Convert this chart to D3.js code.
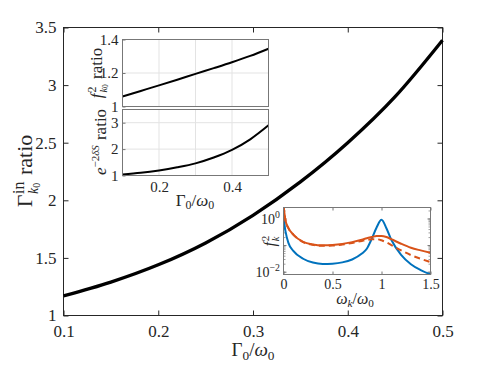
<!DOCTYPE html>
<html>
<head>
<meta charset="utf-8">
<script src="https://cdn.jsdelivr.net/npm/d3@7"></script>
<style>
  body { margin: 0; background: #fff; }
</style>
</head>
<body>
<svg id="chart" width="488" height="366"></svg>
<script>
// main panel: Gamma_k0^in ratio vs Gamma0/omega0
const gammaRatio = [0.1, 0.15, 0.2, 0.25, 0.3, 0.35, 0.4, 0.45, 0.5];
const gammaInRatio = [1.17, 1.29, 1.44, 1.63, 1.87, 2.16, 2.50, 2.90, 3.39];
// upper left inset panels
const fk0Ratio = [1.06, 1.093, 1.126, 1.16, 1.195, 1.229, 1.264, 1.302, 1.345];
const expRatio = [1.04, 1.1, 1.19, 1.31, 1.46, 1.68, 1.97, 2.37, 2.9];
// lower right inset: f_k^2 vs omega_k/omega_0 (log y)
const omega = [0, 0.02, 0.05, 0.1, 0.2, 0.3, 0.4, 0.5, 0.6, 0.7, 0.8, 0.85, 0.9, 0.95, 1.0, 1.05, 1.1, 1.2, 1.3, 1.4, 1.5];
const fkBlue = [1.1, 0.35, 0.126, 0.063, 0.032, 0.023, 0.0204, 0.021, 0.0234, 0.030, 0.050, 0.076, 0.178, 0.48, 0.93, 0.45, 0.166, 0.045, 0.020, 0.012, 0.0083];
const fkOrange = [3.2, 0.9, 0.45, 0.26, 0.138, 0.11, 0.102, 0.105, 0.115, 0.135, 0.166, 0.19, 0.21, 0.23, 0.23, 0.21, 0.174, 0.117, 0.083, 0.066, 0.054];
const fkOrangeDash = [3.2, 0.9, 0.45, 0.26, 0.136, 0.107, 0.098, 0.1, 0.11, 0.126, 0.15, 0.163, 0.174, 0.174, 0.158, 0.132, 0.105, 0.066, 0.044, 0.032, 0.024];

const mainTicksX = [0.1, 0.2, 0.3, 0.4, 0.5];
const mainTicksY = [1, 1.5, 2, 2.5, 3, 3.5];

const svg = d3.select("#chart");
const axisColor = "#262626";
const FONT = "Liberation Serif";

// draw text made of pieces (sub/superscripts), measured one by one
function mtext(parent, x, y, size, parts, anchor, rotate) {
  const g = parent.append("g")
    .attr("transform", `translate(${x},${y})` + (rotate ? " rotate(-90)" : ""));
  let pen = 0, maxEnd = 0, lastStart = 0;
  parts.forEach(p => {
    if (p.back) pen = lastStart;
    if (p.clear) pen = maxEnd;
    pen += (p.gap || 0) * size;
    const t = g.append("text")
      .attr("x", pen)
      .attr("y", (p.dy || 0) * size)
      .attr("font-family", FONT)
      .attr("font-size", size * (p.scale || 1))
      .attr("font-style", p.i ? "italic" : "normal")
      .attr("fill", axisColor)
      .text(p.s);
    const w = t.node().getComputedTextLength();
    lastStart = pen;
    pen += w;
    maxEnd = Math.max(maxEnd, pen);
  });
  const shift = anchor === "middle" ? -maxEnd / 2 : anchor === "end" ? -maxEnd : 0;
  g.selectAll("text").attr("x", function() { return +this.getAttribute("x") + shift; });
  return g;
}

function box(x0, x1, y0, y1, color, lw) {
  svg.append("rect")
    .attr("x", x0).attr("y", y0)
    .attr("width", x1 - x0).attr("height", y1 - y0)
    .attr("fill", "none").attr("stroke", color).attr("stroke-width", lw);
}

function styleTicks(g, size) {
  g.select(".domain").remove();
  g.attr("font-family", FONT);
  g.selectAll("text").attr("font-family", FONT).attr("font-size", size).attr("fill", axisColor);
}

// ---------- main axes ----------
const x = d3.scaleLinear().domain([0.1, 0.5]).range([63.5, 442.5]);
const y = d3.scaleLinear().domain([1, 3.5]).range([315.5, 27.5]);

svg.append("g").attr("transform", `translate(0,${y(1)})`)
  .call(d3.axisBottom(x).tickValues(mainTicksX).tickSize(-5).tickFormat(d3.format(".1f")))
  .call(g => styleTicks(g, 17))
  .call(g => g.selectAll("line").attr("stroke", axisColor))
  .call(g => g.selectAll("text").attr("y", 21).attr("dy", null));
svg.append("g").attr("transform", `translate(0,${y(3.5)})`)
  .call(d3.axisTop(x).tickValues(mainTicksX).tickSize(-5).tickFormat(""))
  .call(g => g.select(".domain").remove())
  .call(g => g.selectAll("line").attr("stroke", axisColor));
svg.append("g").attr("transform", `translate(${x(0.1)},0)`)
  .call(d3.axisLeft(y).tickValues(mainTicksY).tickSize(-5).tickPadding(7).tickFormat(d => d3.format("")(d)))
  .call(g => styleTicks(g, 17))
  .call(g => g.selectAll("line").attr("stroke", axisColor));
svg.append("g").attr("transform", `translate(${x(0.5)},0)`)
  .call(d3.axisRight(y).tickValues(mainTicksY).tickSize(-5).tickFormat(""))
  .call(g => g.select(".domain").remove())
  .call(g => g.selectAll("line").attr("stroke", axisColor));
box(x(0.1), x(0.5), y(3.5), y(1), axisColor, 1);

svg.append("path")
  .datum(gammaRatio.map((g, i) => [g, gammaInRatio[i]]))
  .attr("fill", "none").attr("stroke", "#000").attr("stroke-width", 3.3)
  .attr("d", d3.line().x(d => x(d[0])).y(d => y(d[1])).curve(d3.curveMonotoneX));

mtext(svg, 253, 356, 19, [
  { s: "Γ" }, { s: "0", scale: 0.7, dy: 0.2 }, { s: "/" },
  { s: "ω", i: true }, { s: "0", scale: 0.7, dy: 0.2 }
], "middle");

mtext(svg, 32, 171, 22, [
  { s: "Γ" }, { s: "in", scale: 0.72, dy: -0.38, gap: 0.03 },
  { s: "k", i: true, scale: 0.62, dy: 0.28, back: true }, { s: "0", scale: 0.45, dy: 0.38 },
  { s: "ratio", clear: true, gap: 0.3 }
], "middle", true);

// ---------- inset: two stacked panels ----------
const ix = d3.scaleLinear().domain([0.1, 0.5]).range([122.5, 268.5]);
const iy1 = d3.scaleLinear().domain([1, 1.4]).range([106.5, 39.5]);
const iy2 = d3.scaleLinear().domain([1, 3.5]).range([175.5, 109.5]);
const gridColor = "#e3e3e3";
const insetBorder = "#777";

function panel(ys, ticks, vals, fmt) {
  const [b, t] = ys.range();
  svg.append("rect").attr("x", ix(0.1)).attr("y", t).attr("width", ix(0.5) - ix(0.1)).attr("height", b - t).attr("fill", "#fff");
  svg.append("g").selectAll("line").data([0.2, 0.3, 0.4]).join("line")
    .attr("x1", d => ix(d)).attr("x2", d => ix(d)).attr("y1", t).attr("y2", b)
    .attr("stroke", gridColor);
  svg.append("g").selectAll("line").data(ticks.slice(1)).join("line")
    .attr("x1", ix(0.1)).attr("x2", ix(0.5)).attr("y1", d => ys(d)).attr("y2", d => ys(d))
    .attr("stroke", gridColor);
  svg.append("g").attr("transform", `translate(${ix(0.1)},0)`)
    .call(d3.axisLeft(ys).tickValues(ticks).tickSize(-3).tickPadding(4).tickFormat(fmt))
    .call(g => styleTicks(g, 15))
    .call(g => g.selectAll("line").attr("stroke", insetBorder));
  svg.append("path")
    .datum(gammaRatio.map((g, i) => [g, vals[i]]))
    .attr("fill", "none").attr("stroke", "#000").attr("stroke-width", 2)
    .attr("d", d3.line().x(d => ix(d[0])).y(d => ys(d[1])).curve(d3.curveMonotoneX));
  box(ix(0.1), ix(0.5), t, b, insetBorder, 1);
}
panel(iy1, [1, 1.2, 1.4], fk0Ratio, d => d === 1 ? "1" : d3.format(".1f")(d));
panel(iy2, [1, 2, 3], expRatio, d3.format("d"));

svg.append("g").attr("transform", `translate(0,${iy2(1)})`)
  .call(d3.axisBottom(ix).tickValues([0.2, 0.4]).tickSize(0).tickFormat(d3.format(".1f")))
  .call(g => styleTicks(g, 15))
  .call(g => g.selectAll("text").attr("y", 16).attr("dy", null));

mtext(svg, 195, 206, 17, [
  { s: "Γ" }, { s: "0", scale: 0.7, dy: 0.2 }, { s: "/" },
  { s: "ω", i: true }, { s: "0", scale: 0.7, dy: 0.2 }
], "middle");
mtext(svg, 102, 73, 17, [
  { s: "f", i: true }, { s: "2", scale: 0.7, dy: -0.38, gap: 0.05 },
  { s: "k", i: true, scale: 0.62, dy: 0.28, back: true }, { s: "0", scale: 0.45, dy: 0.38 },
  { s: "ratio", clear: true, gap: 0.3 }
], "middle", true);
mtext(svg, 106, 142, 17, [
  { s: "e", i: true }, { s: "−2", scale: 0.65, dy: -0.42 }, { s: "δS", i: true, scale: 0.65, dy: -0.42 },
  { s: "ratio", clear: true, gap: 0.3 }
], "middle", true);

// ---------- inset: f_k^2 spectrum ----------
const sx = d3.scaleLinear().domain([0, 1.5]).range([283.5, 430.5]);
const sy = d3.scaleLog().domain([0.0082, 2.7]).range([274.5, 207.5]);
svg.append("rect").attr("x", sx(0)).attr("y", sy(2.7)).attr("width", sx(1.5) - sx(0)).attr("height", sy(0.0082) - sy(2.7)).attr("fill", "#fff");
svg.append("clipPath").attr("id", "clipS").append("rect")
  .attr("x", sx(0)).attr("y", sy(2.7)).attr("width", sx(1.5) - sx(0)).attr("height", sy(0.0082) - sy(2.7));

const xt = [0, 0.5, 1, 1.5];
svg.append("g").attr("transform", `translate(0,${sy(0.0082)})`)
  .call(d3.axisBottom(sx).tickValues(xt).tickSize(-3).tickFormat(d => d3.format("")(d)))
  .call(g => styleTicks(g, 14))
  .call(g => g.selectAll("line").attr("stroke", insetBorder))
  .call(g => g.selectAll("text").attr("y", 14).attr("dy", null));
svg.append("g").attr("transform", `translate(0,${sy(2.7)})`)
  .call(d3.axisTop(sx).tickValues(xt).tickSize(-3).tickFormat(""))
  .call(g => g.select(".domain").remove())
  .call(g => g.selectAll("line").attr("stroke", insetBorder));
const minor = [];
[0.01, 0.1, 1].forEach(dec => { for (let k = 1; k <= 9; k++) { const v = dec * k; if (v <= 2.7) minor.push(v); } });
[sx(0), sx(1.5)].forEach((xx, side) => {
  svg.append("g").selectAll("line").data(minor).join("line")
    .attr("x1", xx).attr("x2", xx + (side ? -2 : 2))
    .attr("y1", d => sy(d)).attr("y2", d => sy(d))
    .attr("stroke", insetBorder).attr("stroke-width", 0.7);
  svg.append("g").selectAll("line").data([0.01, 0.1, 1]).join("line")
    .attr("x1", xx).attr("x2", xx + (side ? -3 : 3))
    .attr("y1", d => sy(d)).attr("y2", d => sy(d))
    .attr("stroke", insetBorder);
});

const spec = d3.line().x(d => sx(d[0])).y(d => sy(d[1])).curve(d3.curveMonotoneX);
const curves = [
  { vals: fkBlue, color: "#0072BD", dash: null },
  { vals: fkOrangeDash, color: "#D95319", dash: "6,4" },
  { vals: fkOrange, color: "#D95319", dash: null }
];
curves.forEach(c => {
  svg.append("path")
    .datum(omega.map((o, i) => [o, c.vals[i]]))
    .attr("clip-path", "url(#clipS)")
    .attr("fill", "none").attr("stroke", c.color).attr("stroke-width", 2)
    .attr("stroke-dasharray", c.dash)
    .attr("d", spec);
});
box(sx(0), sx(1.5), sy(2.7), sy(0.0082), insetBorder, 1);

mtext(svg, 280, sy(1) + 5, 14, [{ s: "10" }, { s: "0", scale: 0.7, dy: -0.45 }], "end");
mtext(svg, 280, sy(0.01) + 5, 14, [{ s: "10" }, { s: "−2", scale: 0.7, dy: -0.45 }], "end");
mtext(svg, 355, 304, 16, [
  { s: "ω", i: true }, { s: "k", i: true, scale: 0.7, dy: 0.2 }, { s: "/" },
  { s: "ω", i: true }, { s: "0", scale: 0.7, dy: 0.2 }
], "middle");
mtext(svg, 275, 241, 16, [
  { s: "f", i: true }, { s: "2", scale: 0.7, dy: -0.38, gap: 0.05 },
  { s: "k", i: true, scale: 0.65, dy: 0.28, back: true }
], "middle", true);
</script>
</body>
</html>
